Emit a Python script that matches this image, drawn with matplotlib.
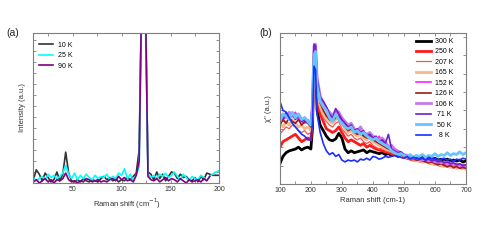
import matplotlib
matplotlib.use("Agg")
import matplotlib.pyplot as plt
from matplotlib.ticker import MultipleLocator

plt.rcParams['font.family'] = ['Liberation Sans', 'DejaVu Sans']

# ---------------- panel (a) data ----------------
a_x = [10, 13, 16, 19, 22, 25, 28, 31,
       34, 37, 40, 43, 46, 49, 52, 55,
       58, 61, 64, 67, 70, 73, 76, 79,
       82, 85, 88, 91, 94, 97, 100, 103,
       106, 109, 112, 115, 118, 121, 124, 127,
       130, 133, 136, 139, 142, 145, 148, 151,
       154, 157, 160, 163, 166, 169, 172, 175,
       178, 181, 184, 187, 190, 193, 196, 199]
a_10K = [0.3, 1.2, 0.8, 0.2, 0.9, 0.5, 0.1, 0.3,
         1.0, 0.2, 0.8, 2.8, 0.9, 0.2, 0.1, 0.3,
         0.1, 0.4, 0.2, 0.1, 0.3, 0.2, 0.1, 0.4,
         0.6, 0.3, 0.5, 0.2, 0.4, 0.1, 0.3, 0.2,
         0.5, 0.3, 0.6, 0.9, 3.0, 20, 19, 1.0,
         0.8, 0.3, 1.0, 0.4, 0.8, 0.2, 0.6, 1.0,
         0.9, 0.4, 0.8, 0.5, 0.6, 0.3, 0.2, 0.5,
         0.1, 0.6, 0.3, 0.9, 0.8, 0.7, 0.7, 0.7]
a_25K = [0.5, 0.2, 0.4, 0.6, 0.3, 0.8, 0.5, 0.7,
         0.4, 0.6, 0.9, 1.6, 0.8, 0.4, 0.9, 0.3,
         0.7, 0.4, 0.8, 0.5, 0.3, 0.7, 0.4, 0.6,
         0.5, 0.8, 0.3, 0.6, 0.4, 0.9, 0.7, 1.3,
         0.4, 0.8, 0.2, 0.7, 1.5, 20, 19, 0.8,
         0.5, 0.7, 0.4, 0.8, 0.6, 0.9, 0.5, 0.7,
         1.0, 0.6, 0.3, 0.8, 0.5, 0.2, 0.6, 0.4,
         0.3, 0.7, 0.5, 0.2, 0.6, 0.8, 1.0, 1.1]
a_90K = [0.1, 0.3, 0.0, 0.2, 0.4, 0.1, 0.3, 0.0,
         0.3, 0.2, 0.4, 0.9, 0.3, 0.1, 0.2, 0.0,
         0.2, 0.1, 0.4, 0.3, 0.1, 0.2, 0.3, 0.1,
         0.2, 0.1, 0.3, 0.4, 0.2, 0.6, 0.3, 0.5,
         0.2, 0.3, 0.1, 0.7, 2.0, 20, 19, 0.6,
         0.3, 0.2, 0.4, 0.1, 0.3, 0.5, 0.2, 0.4,
         0.3, 0.1, 0.4, 0.2, 0.0, 0.3, 0.1, 0.2,
         0.3, 0.1, 0.4, 0.2, 0.6]
a_labels = ["10 K", "25 K", "90 K"]
a_colors = ["#333333", "#00ffff", "#800080"]

# ---------------- panel (b) data ----------------
b_x = [100, 110, 120, 130, 140, 150, 160, 170,
       180, 190, 200, 205, 210, 215, 220, 230,
       240, 250, 260, 270, 280, 290, 300, 310,
       320, 330, 340, 350, 360, 370, 380, 390,
       400, 410, 420, 430, 440, 450, 460, 470,
       480, 490, 500, 510, 520, 530, 540, 550,
       560, 570, 580, 590, 600, 610, 620, 630,
       640, 650, 660, 670, 680, 690, 700]
b_300K = [1.1, 1.5, 1.7, 1.8, 1.85, 1.9, 2.0, 1.85,
          1.95, 2.0, 1.9, 3.0, 6.8, 7.1, 4.0, 3.2,
          2.9, 2.6, 2.4, 2.35, 2.45, 2.75, 2.5, 1.9,
          1.7, 1.8, 1.7, 1.75, 1.8, 1.85, 1.7, 1.8,
          1.75, 1.7, 1.65, 1.7, 1.6, 1.65, 1.55, 1.6,
          1.5, 1.55, 1.5, 1.45, 1.5, 1.4, 1.45, 1.4,
          1.45, 1.35, 1.4, 1.35, 1.4, 1.3, 1.35, 1.3,
          1.35, 1.25, 1.3, 1.25, 1.3, 1.2, 1.25]
b_250K = [2.0, 2.3, 2.4, 2.5, 2.6, 2.7, 2.5, 2.3,
          2.4, 2.5, 2.4, 3.5, 7.0, 7.2, 4.6, 3.8,
          3.4, 3.0, 2.9, 2.8, 2.9, 3.1, 2.8, 2.5,
          2.3, 2.4, 2.3, 2.2, 2.1, 2.2, 2.0, 2.1,
          2.0, 1.9, 1.85, 1.8, 1.75, 1.7, 1.65, 1.6,
          1.55, 1.5, 1.45, 1.4, 1.35, 1.3, 1.3, 1.25,
          1.2, 1.25, 1.15, 1.1, 1.15, 1.05, 1.0, 1.05,
          0.95, 1.0, 0.9, 0.95, 0.9, 0.85, 0.9]
b_207K = [2.7, 2.9, 3.1, 3.0, 3.2, 3.1, 2.9, 2.8,
          2.9, 2.7, 2.8, 3.8, 7.1, 7.3, 5.0, 4.0,
          3.6, 3.4, 3.2, 3.1, 3.3, 3.4, 3.0, 2.8,
          2.6, 2.7, 2.5, 2.4, 2.5, 2.3, 2.2, 2.3,
          2.1, 2.0, 1.9, 1.95, 1.8, 1.75, 1.7, 1.6,
          1.55, 1.5, 1.45, 1.4, 1.35, 1.3, 1.3, 1.2,
          1.25, 1.2, 1.15, 1.1, 1.15, 1.05, 1.1, 1.0,
          1.05, 0.95, 1.0, 0.9, 0.95, 0.9, 0.85]
b_165K = [3.3, 3.1, 3.4, 3.2, 3.5, 3.3, 3.1, 3.2,
          3.0, 3.1, 2.9, 4.0, 7.2, 7.3, 5.2, 4.2,
          3.8, 3.6, 3.4, 3.3, 3.5, 3.6, 3.3, 3.0,
          2.8, 2.9, 2.7, 2.6, 2.7, 2.5, 2.4, 2.5,
          2.3, 2.2, 2.1, 2.0, 1.9, 1.85, 1.8, 1.7,
          1.6, 1.55, 1.5, 1.45, 1.4, 1.35, 1.3, 1.25,
          1.2, 1.25, 1.15, 1.1, 1.05, 1.1, 1.0, 0.95,
          1.0, 0.9, 0.95, 0.85, 0.9, 0.85, 0.8]
b_152K = [3.6, 3.4, 3.8, 3.5, 3.7, 3.9, 3.5, 3.4,
          3.3, 3.5, 3.2, 4.2, 7.4, 7.5, 5.6, 4.6,
          4.3, 4.0, 3.7, 3.5, 3.9, 3.8, 3.4, 3.2,
          3.0, 3.2, 2.9, 2.8, 3.0, 2.7, 2.6, 2.7,
          2.5, 2.4, 2.6, 2.3, 2.2, 2.1, 1.9, 1.8,
          1.7, 1.65, 1.5, 1.6, 1.45, 1.5, 1.4, 1.35,
          1.4, 1.3, 1.35, 1.2, 1.3, 1.15, 1.2, 1.1,
          1.15, 1.0, 1.1, 0.95, 1.05, 0.9, 1.0]
b_126K = [3.2, 3.5, 3.3, 3.6, 3.4, 3.3, 3.5, 3.2,
          3.4, 3.3, 3.1, 4.1, 7.3, 7.4, 5.4, 4.4,
          4.0, 3.7, 3.5, 3.4, 3.6, 3.7, 3.3, 3.1,
          2.9, 3.0, 2.8, 2.7, 2.8, 2.6, 2.5, 2.6,
          2.4, 2.3, 2.2, 2.1, 2.0, 1.9, 1.8, 1.7,
          1.65, 1.6, 1.5, 1.45, 1.4, 1.35, 1.3, 1.3,
          1.25, 1.2, 1.15, 1.2, 1.1, 1.05, 1.1, 1.0,
          0.95, 1.0, 0.9, 0.95, 0.85, 0.9, 0.85]
b_106K = [3.5, 3.8, 3.6, 3.9, 3.7, 3.6, 3.8, 3.5,
          3.6, 3.4, 3.3, 4.3, 7.5, 7.6, 5.8, 4.8,
          4.4, 4.1, 3.9, 3.7, 4.0, 3.9, 3.6, 3.4,
          3.2, 3.3, 3.0, 2.9, 3.1, 2.8, 2.7, 2.8,
          2.6, 2.5, 2.4, 2.5, 2.3, 2.0, 2.1, 1.9,
          1.8, 1.7, 1.6, 1.55, 1.5, 1.4, 1.45, 1.35,
          1.3, 1.4, 1.25, 1.3, 1.2, 1.25, 1.15, 1.2,
          1.1, 1.15, 1.05, 1.1, 1.0, 1.05, 1.0]
b_71K = [3.7, 3.5, 3.9, 3.6, 3.8, 3.5, 3.7, 3.4,
         3.5, 3.3, 3.4, 4.4, 7.6, 7.5, 5.7, 4.7,
         4.5, 4.2, 3.8, 3.6, 4.1, 3.8, 3.5, 3.3,
         3.1, 3.2, 2.9, 3.0, 2.8, 2.9, 2.6, 2.7,
         2.5, 2.6, 2.3, 2.4, 2.2, 2.7, 1.9, 1.8,
         1.7, 1.75, 1.6, 1.5, 1.55, 1.4, 1.5, 1.35,
         1.4, 1.3, 1.35, 1.25, 1.3, 1.2, 1.25, 1.15,
         1.2, 1.1, 1.15, 1.05, 1.1, 1.0, 1.05]
b_50K = [3.4, 3.8, 3.7, 3.5, 3.9, 3.6, 3.8, 3.5,
         3.6, 3.4, 3.2, 4.0, 7.0, 7.2, 5.3, 4.5,
         4.2, 4.0, 3.6, 3.4, 3.8, 3.5, 3.3, 3.1,
         3.0, 3.1, 2.8, 2.9, 2.7, 2.8, 2.6, 2.5,
         2.4, 2.5, 2.3, 2.2, 2.1, 2.0, 1.8, 1.7,
         1.6, 1.65, 1.55, 1.5, 1.6, 1.45, 1.55, 1.5,
         1.6, 1.45, 1.55, 1.5, 1.65, 1.5, 1.6, 1.55,
         1.7, 1.55, 1.65, 1.6, 1.75, 1.6, 1.7]
b_8K = [4.5, 4.0, 3.9, 3.6, 3.3, 3.1, 2.9, 2.7,
        2.6, 2.4, 2.4, 3.3, 6.4, 6.2, 3.8, 2.8,
        2.2, 1.8, 1.6, 1.7, 1.5, 1.6, 1.3, 1.2,
        1.3, 1.25, 1.3, 1.2, 1.35, 1.3, 1.4, 1.3,
        1.5, 1.45, 1.35, 1.4, 1.5, 1.45, 1.5, 1.55,
        1.5, 1.45, 1.4, 1.5, 1.35, 1.45, 1.4, 1.35,
        1.4, 1.3, 1.45, 1.35, 1.4, 1.3, 1.35, 1.4,
        1.3, 1.35, 1.25, 1.35, 1.3, 1.4, 1.35]
b_labels = ["300 K", "250 K", "207 K", "165 K", "152 K",
            "126 K", "106 K", " 71 K", " 50 K", "  8 K"]
b_colors = ["#000000", "#ff1a1a", "#ff5050", "#f5b98a", "#ff22ff",
            "#a01818", "#c878e8", "#7020c8", "#66c4ff", "#1a30ff"]
b_widths = [2.0, 2.0, 0.9, 2.0, 1.2, 1.2, 2.0, 1.2, 2.0, 1.2]

spine_col = "#7f7f7f"
tick_col = "#333333"

fig = plt.figure(figsize=(4.91, 2.45), dpi=100)
axa = fig.add_axes([0.068, 0.253, 0.379, 0.612])
axb = fig.add_axes([0.570, 0.249, 0.379, 0.616])

for ax in (axa, axb):
    for s in ax.spines.values():
        s.set_color(spine_col)
        s.set_linewidth(0.8)
    ax.tick_params(which='both', direction='in', top=True, right=True,
                   color=spine_col, labelsize=5, labelcolor=tick_col,
                   width=0.6, pad=2.5)
    ax.tick_params(which='major', length=2.5)
    ax.tick_params(which='minor', length=2.5)
    ax.set_yticklabels([])

# panel (a)
for y, lab, c in zip([a_10K, a_25K, a_90K], a_labels, a_colors):
    axa.plot(a_x[:len(y)], y, color=c, lw=1.2, label=lab)
axa.set_xlim(10, 200)
axa.set_ylim(0, 13.6)
axa.xaxis.set_major_locator(MultipleLocator(50))
axa.xaxis.set_minor_locator(MultipleLocator(25))
axa.yaxis.set_major_locator(MultipleLocator(1))
axa.set_yticklabels([])
axa.set_xlabel("Raman shift (cm$^{-1}$)", fontsize=5.5, color=tick_col, labelpad=2)
axa.set_ylabel("Intensity (a.u.)", fontsize=5.5, color=tick_col, labelpad=3)
axa.legend(loc='upper left', frameon=False, fontsize=5, handlelength=2.0,
           labelspacing=0.5, handletextpad=0.8, borderaxespad=0.4,
           bbox_to_anchor=(0.0, 0.98))
fig.text(0.012, 0.855, "(a)", fontsize=7.5, color="#222222")

# panel (b)
b_series = [b_300K, b_250K, b_207K, b_165K, b_152K,
            b_126K, b_106K, b_71K, b_50K, b_8K]
for y, lab, c, w in zip(b_series, b_labels, b_colors, b_widths):
    axb.plot(b_x, y, color=c, lw=w, label=lab)
axb.set_xlim(100, 700)
axb.set_ylim(0, 8.2)
axb.xaxis.set_major_locator(MultipleLocator(100))
axb.xaxis.set_minor_locator(MultipleLocator(50))
axb.yaxis.set_major_locator(MultipleLocator(1))
axb.set_yticklabels([])
axb.set_xlabel("Raman shift (cm-1)", fontsize=5.5, color=tick_col, labelpad=2)
axb.set_ylabel("χ'' (a.u.)", fontsize=5.5, color=tick_col, labelpad=3)
axb.legend(loc='upper right', frameon=False, fontsize=5, handlelength=2.2,
           labelspacing=0.5, handletextpad=0.6, borderaxespad=0.3,
           bbox_to_anchor=(0.96, 1.0))
fig.text(0.528, 0.855, "(b)", fontsize=7.5, color="#222222")

fig.savefig("out.png", dpi=100)
